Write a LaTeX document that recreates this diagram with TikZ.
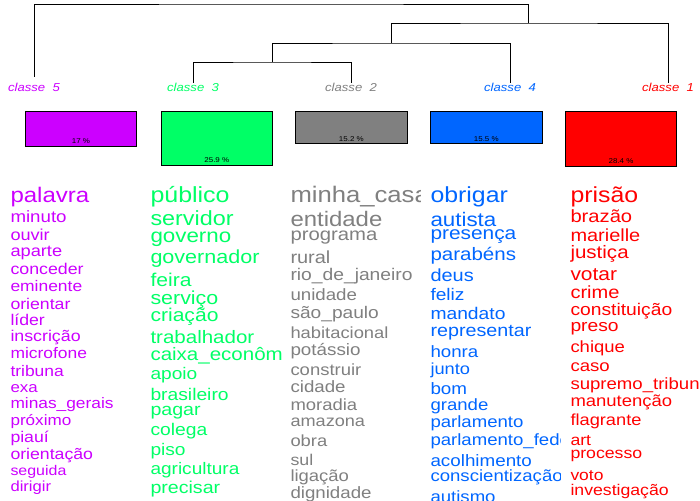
\documentclass[tikz,border=0pt]{standalone}
\usepackage{fontspec}
\setmainfont{Liberation Sans}[FakeStretch=1.14]
\definecolor{cfive}{HTML}{CC00FF}
\definecolor{cthree}{HTML}{00FF66}
\definecolor{ctwo}{HTML}{808080}
\definecolor{cfour}{HTML}{0066FF}
\definecolor{cone}{HTML}{FF0000}
\tikzset{
    every node/.style={inner sep=0pt, outer sep=0pt}
}
\tikzset{kls/.style={anchor=north, font=\fontsize{11.5}{11.5}\selectfont\itshape}}
\tikzset{bar/.style={rectangle, draw=black, line width=.8pt, anchor=north, minimum width=111.5pt, minimum height=#1}}
\tikzset{pct/.style={anchor=base, font=\fontsize{7}{7}\selectfont}}
\tikzset{wd/.style={anchor=base west, font=\fontsize{#1}{#1}\selectfont}}

\begin{document}
\begin{tikzpicture}[x=1pt, y=-1pt]
        \path[fill=white, use as bounding box] (0,0) rectangle (700,500);
        \node (k5) [kls, text=cfive] at (34,83) {classe\ \ 5};
        \node (k3) [kls, text=cthree] at (193,83) {classe\ \ 3};
        \node (k2) [kls, text=ctwo] at (351,83) {classe\ \ 2};
        \node (k4) [kls, text=cfour] at (510,83) {classe\ \ 4};
        \node (k1) [kls, text=cone] at (668,83) {classe\ \ 1};
        \coordinate (m1) at (272,62);
        \coordinate (m2) at (391,43);
        \coordinate (m3) at (528,23);
        \coordinate (m4) at (281,4);
        \draw[line width=.8pt] (k3.north) |- (m1) -| (k2.north);
        \draw[line width=.8pt] (m1) |- (m2) -| (k4.north);
        \draw[line width=.8pt] (m2) |- (m3) -| (k1.north);
        \draw[line width=.8pt, shorten <=6pt] (k5.north) |- (m4) -| (m3);
        \node (b5) [bar=35pt, fill=cfive] at (81,111) {};
        \node (b3) [bar=54pt, fill=cthree] at (216.8,111) {};
        \node (b2) [bar=32.7pt, fill=ctwo] at (351.4,111) {};
        \node (b4) [bar=32.7pt, fill=cfour] at (486.3,111) {};
        \node (b1) [bar=55pt, fill=cone] at (621,111) {};
        \node (q5) [pct] at ([yshift=2.5pt]b5.south) {17 \%};
        \node (q3) [pct] at ([yshift=2.5pt]b3.south) {25.9 \%};
        \node (q2) [pct] at ([yshift=2.5pt]b2.south) {15.2 \%};
        \node (q4) [pct] at ([yshift=2.5pt]b4.south) {15.5 \%};
        \node (q1) [pct] at ([yshift=2.5pt]b1.south) {28.4 \%};
        % classe 5
        \begin{scope}[text=cfive]
                \clip (9,180) rectangle (140.5,500);
                \node (a0) [wd=21.1] at (10.5,202.7) {palavra};
                \node (a1) [wd=16.4] at (10.5,222.7) {minuto};
                \node (a2) [wd=15.9] at (10.5,240.5) {ouvir};
                \node (a3) [wd=16] at (10.5,256) {aparte};
                \node (a4) [wd=15.6] at (10.5,274.7) {conceder};
                \node (a5) [wd=15.3] at (10.5,291.7) {eminente};
                \node (a6) [wd=15.5] at (10.5,309.3) {orientar};
                \node (a7) [wd=15.5] at (10.5,325) {líder};
                \node (a8) [wd=15.6] at (10.5,341.7) {inscrição};
                \node (a9) [wd=15.3] at (10.5,358.7) {microfone};
                \node (a10) [wd=15.3] at (10.5,376.3) {tribuna};
                \node (a11) [wd=14.8] at (10.5,392) {exa};
                \node (a12) [wd=15.2] at (10.5,408.3) {minas\_gerais};
                \node (a13) [wd=15] at (10.5,425) {próximo};
                \node (a14) [wd=15.5] at (10.5,442) {piauí};
                \node (a15) [wd=15.5] at (10.5,459.2) {orientação};
                \node (a16) [wd=14] at (10.5,475) {seguida};
                \node (a17) [wd=14.6] at (10.5,491.2) {dirigir};
        \end{scope}
        % classe 3
        \begin{scope}[text=cthree]
                \clip (149,180) rectangle (281,500);
                \node (c0) [wd=21.9] at (150.5,202.7) {público};
                \node (c1) [wd=20.5] at (150.5,225) {servidor};
                \node (c2) [wd=19.6] at (150.5,242.7) {governo};
                \node (c3) [wd=18.9] at (150.5,263.3) {governador};
                \node (c4) [wd=18.5] at (150.5,286) {feira};
                \node (c5) [wd=18.8] at (150.5,304) {serviço};
                \node (c6) [wd=18.5] at (150.5,321.7) {criação};
                \node (c7) [wd=18] at (150.5,343.3) {trabalhador};
                \node (c8) [wd=18] at (150.5,360) {caixa\_econômica};
                \node (c9) [wd=16.8] at (150.5,379) {apoio};
                \node (c10) [wd=16.9] at (150.5,400) {brasileiro};
                \node (c11) [wd=17.2] at (150.5,415) {pagar};
                \node (c12) [wd=16.9] at (150.5,435.7) {colega};
                \node (c13) [wd=16.8] at (150.5,455) {piso};
                \node (c14) [wd=16.7] at (150.5,474) {agricultura};
                \node (c15) [wd=17.2] at (150.5,493.3) {precisar};
        \end{scope}
        % classe 2
        \begin{scope}[text=ctwo]
                \clip (289,180) rectangle (420.5,500);
                \node (d0) [wd=22.5] at (290.5,202.7) {minha\_casa};
                \node (d1) [wd=21] at (290.5,226.7) {entidade};
                \node (d2) [wd=17.8] at (290.5,240) {programa};
                \node (d3) [wd=17.5] at (290.5,263.3) {rural};
                \node (d4) [wd=16.9] at (290.5,280) {rio\_de\_janeiro};
                \node (d5) [wd=16.4] at (290.5,300.7) {unidade};
                \node (d6) [wd=16.8] at (290.5,318.3) {são\_paulo};
                \node (d7) [wd=16.1] at (290.5,338.3) {habitacional};
                \node (d8) [wd=16.5] at (290.5,355) {potássio};
                \node (d9) [wd=16.2] at (290.5,375) {construir};
                \node (d10) [wd=16.4] at (290.5,392.7) {cidade};
                \node (d11) [wd=16.2] at (290.5,410.7) {moradia};
                \node (d12) [wd=15.9] at (290.5,426.7) {amazona};
                \node (d13) [wd=16.1] at (290.5,446.7) {obra};
                \node (d14) [wd=15.6] at (290.5,465) {sul};
                \node (d15) [wd=16.2] at (290.5,481) {ligação};
                \node (d16) [wd=16.4] at (290.5,498.3) {dignidade};
        \end{scope}
        % classe 4
        \begin{scope}[text=cfour]
                \clip (429,180) rectangle (560.5,500);
                \node (e0) [wd=21.8] at (430.5,202.7) {obrigar};
                \node (e1) [wd=19.6] at (430.5,226) {autista};
                \node (e2) [wd=18.3] at (430.5,239.3) {presença};
                \node (e3) [wd=18] at (430.5,260.7) {parabéns};
                \node (e4) [wd=17.5] at (430.5,281.7) {deus};
                \node (e5) [wd=16.8] at (430.5,300.7) {feliz};
                \node (e6) [wd=16.9] at (430.5,319.3) {mandato};
                \node (e7) [wd=17.3] at (430.5,336.7) {representar};
                \node (e8) [wd=16.4] at (430.5,357.7) {honra};
                \node (e9) [wd=16] at (430.5,374) {junto};
                \node (e10) [wd=16.5] at (430.5,394) {bom};
                \node (e11) [wd=16.3] at (430.5,410) {grande};
                \node (e12) [wd=16.3] at (430.5,427.7) {parlamento};
                \node (e13) [wd=16.3] at (430.5,445) {parlamento\_federal};
                \node (e14) [wd=16.5] at (430.5,466) {acolhimento};
                \node (e15) [wd=16.3] at (430.5,481.7) {conscientização};
                \node (e16) [wd=16.3] at (430.5,502) {autismo};
        \end{scope}
        % classe 1
        \begin{scope}[text=cone]
                \clip (569,180) rectangle (700,500);
                \node (f0) [wd=21.8] at (570.5,202.7) {prisão};
                \node (f1) [wd=17.7] at (570.5,222.7) {brazão};
                \node (f2) [wd=17.5] at (570.5,241.7) {marielle};
                \node (f3) [wd=18] at (570.5,258.3) {justiça};
                \node (f4) [wd=18.4] at (570.5,280) {votar};
                \node (f5) [wd=17.6] at (570.5,298.3) {crime};
                \node (f6) [wd=16.9] at (570.5,315) {constituição};
                \node (f7) [wd=16.9] at (570.5,331.7) {preso};
                \node (f8) [wd=16.2] at (570.5,352.7) {chique};
                \node (f9) [wd=16.3] at (570.5,371.7) {caso};
                \node (f10) [wd=16.3] at (570.5,389.3) {supremo\_tribunal};
                \node (f11) [wd=16.2] at (570.5,406.7) {manutenção};
                \node (f12) [wd=16] at (570.5,425) {flagrante};
                \node (f13) [wd=15.5] at (570.5,445.7) {art};
                \node (f14) [wd=15.5] at (570.5,458.3) {processo};
                \node (f15) [wd=15.3] at (570.5,480) {voto};
                \node (f16) [wd=15.5] at (570.5,495) {investigação};
        \end{scope}
\end{tikzpicture}
\end{document}
